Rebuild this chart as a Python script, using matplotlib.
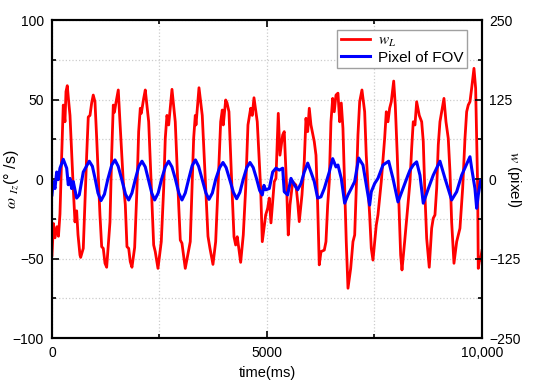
import matplotlib
matplotlib.use('Agg')
import matplotlib.pyplot as plt
from matplotlib.ticker import MultipleLocator, FixedLocator, FuncFormatter

plt.rcParams['font.family'] = ['Liberation Sans', 'DejaVu Sans']
plt.rcParams['mathtext.fontset'] = 'stix'

# ── data ───────────────────────────────────────────────────────────────────────
# red: angular rate w_L (deg/s, left axis)
t_red = [0, 35, 70, 116, 151, 186, 226, 263, 302, 326, 356, 384, 419, 495, 535,
         574, 605, 651, 667, 728, 807, 844, 884, 923, 960, 1000, 1040, 1116, 1156,
         1193, 1233, 1272, 1349, 1388, 1426, 1453, 1488, 1542, 1581, 1658, 1705,
         1744, 1784, 1821, 1860, 1923, 1977, 2016, 2054, 2077, 2133, 2170, 2249,
         2326, 2365, 2402, 2465, 2542, 2598, 2635, 2674, 2714, 2791, 2867, 2947,
         2984, 3023, 3100, 3216, 3256, 3295, 3333, 3349, 3419, 3495, 3575, 3628,
         3674, 3744, 3807, 3860, 3923, 3961, 3984, 4040, 4070, 4116, 4170, 4233,
         4272, 4309, 4388, 4449, 4505, 4558, 4621, 4658, 4698, 4774, 4853, 4891,
         4970, 5016, 5054, 5093, 5133, 5170, 5209, 5263, 5302, 5365, 5402, 5426,
         5458, 5495, 5535, 5598, 5674, 5714, 5751, 5814, 5867, 5907, 5947, 5984,
         6023, 6100, 6140, 6179, 6216, 6256, 6333, 6372, 6412, 6449, 6488, 6528,
         6565, 6605, 6651, 6691, 6728, 6767, 6807, 6844, 6884, 6947, 7000, 7040,
         7077, 7116, 7156, 7209, 7272, 7309, 7388, 7426, 7465, 7505, 7542, 7581,
         7658, 7737, 7775, 7814, 7853, 7891, 7947, 7984, 8030, 8070, 8109, 8140,
         8202, 8279, 8326, 8365, 8402, 8442, 8481, 8542, 8598, 8635, 8674, 8714,
         8774, 8830, 8867, 8907, 8947, 8984, 9023, 9116, 9163, 9216, 9256, 9295,
         9349, 9412, 9449, 9488, 9551, 9605, 9644, 9681, 9721, 9760, 9814, 9853,
         9877, 9900, 9914, 9937, 9970, 10000]
w_red = [-48, -28, -37, -30, -36, -22, 15, 46.5, 36, 55, 58.7, 50, 40, -5.8, -27,
         -20, -35, -47.8, -49.3, -43.6, 15, 39, 40, 47.8, 52.8, 48.6, 25.6, -22.6, -42.6,
         -43.6, -53, -55.5, -27, 15, 46.5, 42, 48, 56, 36, -1.7, -16,
         -42.6, -43.6, -52, -55.5, -43, -5.7, 29.8, 44.5, 41.3, 50.7, 56, 36,
         -16.4, -41.5, -45.7, -56.2, -39.4, -5.8, 25.6, 40, 34, 56.4, 36, -16.4,
         -38.4, -40.4, -56.2, -39.4, -5.8, 25.6, 40, 34, 57.4, 40, -5.8, -36,
         -43.6, -53.7, -39.4, -5.8, 36, 43.4, 34, 49.7, 48, 42.3, 4.6, -36.3,
         -41.5, -36.3, -52.4, -35.2, -5.8, 34, 44.5, 40, 51.1, 36, -5.8, -39.4,
         -22.6, -18.4, -12, -27.6, -14.3, -1.7, 0.4, 41.3, 15, 27.7, 29.8, 15,
         -5.8, -35.2, -16.4, -1.7, -3.8, -14.3, -26.8, -10, 10.9, 38.2, 29.8, 44.5,
         34, 23.5, 15, -16.4, -54, -45.7, -44.7, -39.4, -16.4, -1.7, 36, 50.7,
         42.3, 52.8, 54, 36, 47.8, 31.9, -5.8, -39.4, -68.7, -56.2, -39.4, -35.2,
         -5.8, 27.7, 48.6, 56, 42.3, 15, -22.6, -43.6, -51, -39.4, -29, -22.6,
         -1.7, 25.6, 42.3, 36, 44.5, 48.6, 61.6, 46.5, 15, -16.4, -47.8, -57.2,
         -39.4, -16.4, -1.7, 19.3, 36, 34, 48.6, 40, 36, 23.5, -10, -37.3,
         -55.5, -31, -24.7, -22.6, -5.8, 21.4, 36, 50.7, 36, 25.6, 4.6, -27,
         -53, -39.4, -35.2, -31, -5.8, 25.6, 42.3, 46.5, 48.6, 57, 69.6, 57,
         25.6, -5.8, -56.2, -52, -50, -45]

# blue: pixel offset of FOV (pixel, right axis)
t_blue = [0, 30, 70, 109, 147, 186, 263, 342, 379, 419, 458, 495, 574, 635, 728,
          867, 940, 1005, 1070, 1140, 1220, 1300, 1390, 1465, 1540, 1620, 1710,
          1784, 1860, 1940, 2020, 2093, 2170, 2240, 2320, 2388, 2470, 2550, 2640,
          2714, 2790, 2870, 2950, 3023, 3100, 3180, 3260, 3337, 3410, 3490, 3580,
          3651, 3730, 3810, 3900, 3977, 4050, 4130, 4220, 4295, 4370, 4450, 4530,
          4605, 4680, 4760, 4830, 4891, 4930, 4970, 5054, 5133, 5209, 5287, 5365,
          5402, 5481, 5558, 5635, 5714, 5791, 5867, 5947, 6023, 6100, 6179, 6256,
          6333, 6449, 6528, 6605, 6651, 6728, 6807, 6884, 6960, 7040, 7133, 7233,
          7309, 7388, 7426, 7505, 7581, 7698, 7830, 7930, 8047, 8163, 8279, 8326,
          8402, 8481, 8558, 8635, 8753, 8867, 9023, 9140, 9295, 9412, 9528, 9721,
          9760, 9837, 9877, 9914, 9970, 10000]
p_blue = [-25, -4, -15, 11, -1, 17, 31, 17, -9, 1, -15, -4, -30, -25, 11,
          28, 20, 0, -22, -34, -24, 0, 22, 30, 20, 0, -24,
          -33, -22, 0, 20, 28, 19, 0, -22, -33, -22, 0, 20,
          28, 19, 0, -22, -33, -22, 0, 21, 30, 20, 0, -22,
          -32, -22, 0, 18, 26, 18, 0, -21, -31, -21, 0, 18,
          26, 18, 0, -18, -25, -10, -17, -15, 11, 17, 14, 17,
          -20, -25, 1, -9, -17, -7, 11, 25, 11, -4, -30, -28,
          -15, 11, 32, 19, 22, 1, -38, -25, -15, -4, 33, 22,
          -9, -41, -20, -7, 1, 22, 28, 1, -36, -15, 6, 14,
          22, 27, 6, -38, -15, 6, 28, 1, -33, -20, 6, 35,
          17, -15, -46, -25, -2, -5]

fig = plt.figure(figsize=(5.5, 3.9), dpi=100)
ax = fig.add_axes([0.0945, 0.1333, 0.7818, 0.8154])
ax2 = ax.twinx()

l1, = ax.plot(t_red, w_red, color='#ff0000', linewidth=2.0, label=r'$w_{L}$')
l2, = ax2.plot(t_blue, p_blue, color='#0000ff', linewidth=2.2, label='Pixel of FOV')
ax.set_zorder(ax2.get_zorder() - 1)
ax.patch.set_visible(True)
ax2.patch.set_visible(False)

ax.set_xlim(0, 10000)
ax.set_ylim(-100, 100)
ax2.set_ylim(-250, 250)

ax.xaxis.set_major_locator(FixedLocator([0, 5000, 10000]))
ax.xaxis.set_minor_locator(FixedLocator([2500, 7500]))
ax.xaxis.set_major_formatter(FuncFormatter(lambda v, p: f'{int(v):,}' if v >= 10000 else f'{int(v)}'))
ax.yaxis.set_major_locator(MultipleLocator(50))
ax.yaxis.set_minor_locator(MultipleLocator(25))
ax2.yaxis.set_major_locator(MultipleLocator(125))
ax2.yaxis.set_minor_locator(MultipleLocator(62.5))

ax.grid(True, which='both', color='#cccccc', linestyle=':', linewidth=0.9)
ax.tick_params(which='both', direction='in', top=True, labelsize=10, width=1.2)
ax.tick_params(axis='x', pad=6)
ax.tick_params(axis='y', pad=6)
ax.tick_params(which='major', length=5)
ax.tick_params(which='minor', length=3)
ax2.tick_params(which='both', direction='in', labelsize=10, width=1.2, pad=5)
ax2.tick_params(which='major', length=5)
ax2.tick_params(which='minor', length=3)
for a in (ax, ax2):
    for s in a.spines.values():
        s.set_linewidth(1.5)

ax.set_xlabel('time(ms)', fontsize=10.5, labelpad=4)
ax.set_ylabel(r'$\omega$ $_{Iz}$(° /s)', fontsize=11.5)
ax.yaxis.set_label_coords(-0.072, 0.5)
ax2.set_ylabel(r'$w$ (pixel)', fontsize=11, rotation=270)
ax2.yaxis.set_label_coords(1.095, 0.5)

ax.legend(handles=[l1, l2], loc='upper right', bbox_to_anchor=(0.965, 0.969),
          borderaxespad=0, fontsize=11, handlelength=1.9, fancybox=False,
          edgecolor='#a0a0a0', framealpha=1, borderpad=0.25, labelspacing=0.12,
          handletextpad=0.5)

plt.savefig('out.png', dpi=100)
